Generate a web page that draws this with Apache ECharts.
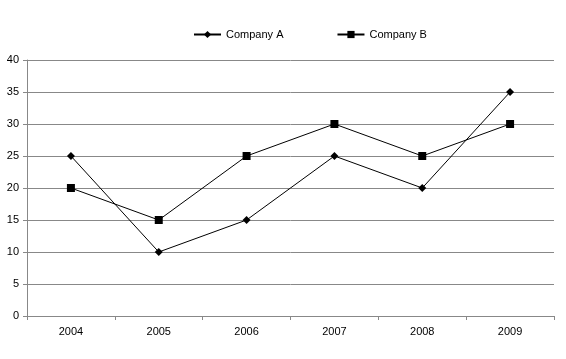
<!DOCTYPE html>
<html><head><meta charset="utf-8">
<script src="https://cdn.jsdelivr.net/npm/echarts@6/dist/echarts.min.js"></script>
<style>html,body{margin:0;padding:0;background:#fff}#c{width:566px;height:359px}</style>
</head><body><div id="c"></div>
<script>
const categories = ['2004','2005','2006','2007','2008','2009'];
const companyA = [25,10,15,25,20,35];
const companyB = [20,15,25,30,25,30];
const yTicks = {min:0, max:40, interval:5};

const chart = echarts.init(document.getElementById('c'));
const font = 'Liberation Sans';
chart.setOption({
  animation:false,
  backgroundColor:'#fff',
  textStyle:{fontFamily:font},
  legend:{
    top:24, left:188, itemGap:53, itemWidth:27, itemHeight:9,
    textStyle:{fontFamily:font,fontSize:11,color:'#000'},
    data:['Company A','Company B']
  },
  grid:{left:27,right:12,top:60,bottom:43},
  xAxis:{
    type:'category', data:categories, boundaryGap:true,
    axisLine:{lineStyle:{color:'#888',width:1}},
    axisTick:{show:true,length:4,lineStyle:{color:'#888'}},
    axisLabel:{color:'#000',fontFamily:font,fontSize:11,margin:10}
  },
  yAxis:{
    type:'value', min:yTicks.min, max:yTicks.max, interval:yTicks.interval,
    axisLine:{show:true,lineStyle:{color:'#888',width:1}},
    axisTick:{show:true,length:4,lineStyle:{color:'#888'}},
    splitLine:{lineStyle:{color:'#888',width:1}},
    axisLabel:{color:'#000',fontFamily:font,fontSize:11,margin:8}
  },
  series:[
    {name:'Company A',type:'line',data:companyA,symbol:'diamond',symbolSize:8,
     lineStyle:{color:'#000',width:1},itemStyle:{color:'#000'}},
    {name:'Company B',type:'line',data:companyB,symbol:'rect',symbolSize:8,
     lineStyle:{color:'#000',width:1},itemStyle:{color:'#000'}}
  ]
});
</script></body></html>
